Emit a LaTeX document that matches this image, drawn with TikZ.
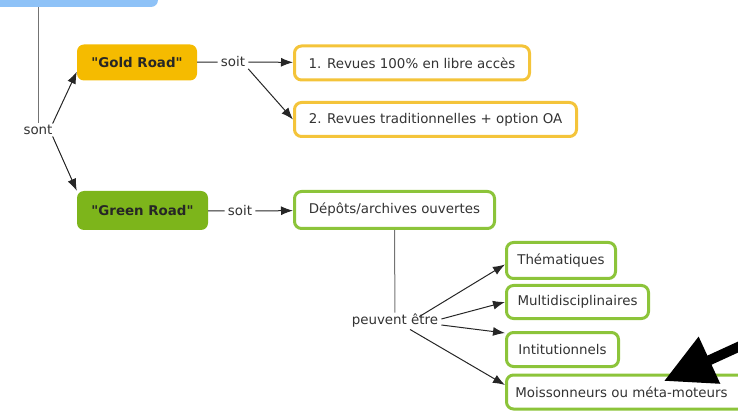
\documentclass[tikz,border=0pt]{standalone}
\usepackage{fontspec}
\setmainfont{DejaVu Sans}
\usetikzlibrary{arrows.meta}
\definecolor{bleu}{HTML}{8EC2F7}
\definecolor{ocre}{HTML}{F5BB00}
\definecolor{ocrebord}{HTML}{F4C43A}
\definecolor{vert}{HTML}{7DB51B}
\definecolor{vertbord}{HTML}{8CC43A}
\definecolor{texte}{HTML}{333333}
\begin{document}
\begin{tikzpicture}[x=1pt,y=-1pt,
    font=\fontsize{13.4}{15}\selectfont, text=texte,
    concept/.style={rounded corners=7pt, inner sep=0pt, minimum height=36pt},
    plein/.style={concept, font=\fontsize{13.4}{15}\selectfont\bfseries, text=black!85},
    cadre/.style={concept, line width=3pt, fill=white, minimum height=34pt},
    etiq/.style={inner xsep=3pt, inner ysep=1.5pt, fill=white}]
    \useasboundingbox (0,0) rectangle (738,411);
    \clip (0,0) rectangle (738,411);
      \draw
        (29,-11) node[concept, fill=bleu, minimum width=258pt] (racine){}
        (38,130) node[etiq] (sont){sont}
        (137,62.5) node[plein, fill=ocre, minimum width=120pt] (gold){\textquotedbl Gold Road\textquotedbl}
        (142.5,210.5) node[plein, fill=vert, minimum width=131pt, minimum height=39pt] (green){\textquotedbl Green Road\textquotedbl}
        (233,62) node[etiq] (soit1){soit}
        (240,211) node[etiq] (soit2){soit}
        (412,63) node[cadre, draw=ocrebord, minimum width=235pt] (revues1){1. Revues 100\% en libre accès}
        (435.5,119.5) node[cadre, draw=ocrebord, minimum width=282pt] (revues2){2. Revues traditionnelles + option OA}
        (394.5,210) node[cadre, draw=vertbord, minimum width=200pt, minimum height=37pt] (depots){Dépôts/archives ouvertes}
        (395,321) node[etiq] (peuvent){peuvent être}
        (561,260.5) node[cadre, draw=vertbord, minimum width=109pt, minimum height=36pt] (thema){Thématiques}
        (577.5,302) node[cadre, draw=vertbord, minimum width=142pt, minimum height=33pt] (multi){Multidisciplinaires}
        (562.5,349.5) node[cadre, draw=vertbord, minimum width=112pt] (intit){Intitutionnels}
        (627.5,392) node[cadre, draw=vertbord, minimum width=242pt, minimum height=34pt] (moisson){\hspace*{-12pt}Moissonneurs ou méta-moteurs};
      \begin{scope}[draw=black!55, line width=1pt]
        \draw (racine.south -| sont) to (sont);
        \draw (depots.south) to (peuvent);
      \end{scope}
      \begin{scope}[draw=black!85, line width=1pt]
        \draw (gold) to (soit1);
        \draw (green) to (soit2);
      \end{scope}
      \begin{scope}[draw=black!85, line width=1pt, -{Latex[length=12pt,width=9pt]}]
        \draw ([xshift=-3pt]sont.north east) to ([yshift=9pt]gold.south west);
        \draw ([xshift=-3pt]sont.south east) to (green.north west);
        \draw (soit1) to (revues1);
        \draw (soit1.south east) to (revues2.west);
        \draw (soit2) to (depots);
        \draw ([xshift=-22pt,yshift=-4pt]peuvent.north east) to ([yshift=-4pt]thema.west);
        \draw ([yshift=2pt]peuvent.east) to (multi.west);
        \draw ([yshift=-4pt]peuvent.east) to ([yshift=-2pt]intit.north west);
        \draw ([xshift=15pt]peuvent.south) to ([yshift=7pt]moisson.west);
      \end{scope}
      % grosse fleche
      \coordinate (queue) at (760,337);
      \coordinate (pointe) at (664,381);
      \draw[line width=10pt, -{Triangle[length=50pt,width=49pt]}] (queue) -- (pointe);
\end{tikzpicture}
\end{document}
